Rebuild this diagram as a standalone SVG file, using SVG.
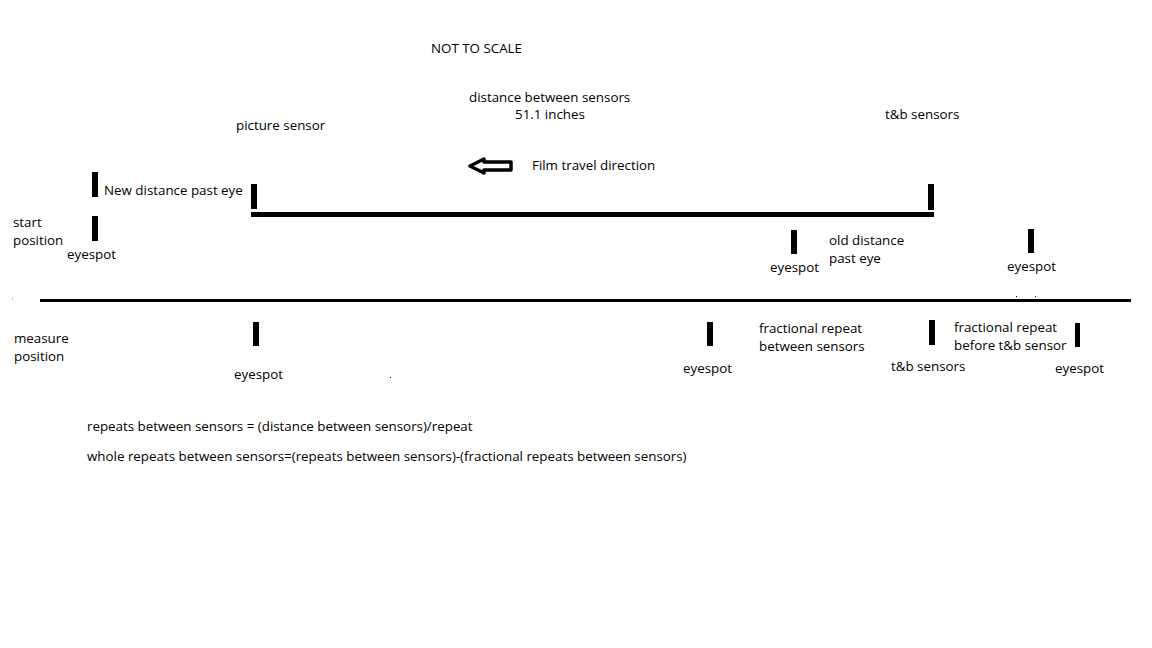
<svg xmlns="http://www.w3.org/2000/svg" width="1152" height="648" viewBox="0 0 1152 648">
<style>
text{font-family:"Open Sans","Liberation Sans",sans-serif;font-size:13.35px;fill:#000}
.bar{fill:#000}
</style>
<rect width="1152" height="648" fill="#fff"/>
<g id="labels">
<text x="431" y="53">NOT TO SCALE</text>
<text x="469" y="102">distance between sensors</text>
<text x="515" y="119">51.1 inches</text>
<text x="236" y="130">picture sensor</text>
<text x="885" y="119">t&amp;b sensors</text>
<text x="532" y="170">Film travel direction</text>
<text x="104" y="195">New distance past eye</text>
<text x="13" y="227">start</text>
<text x="13" y="245">position</text>
<text x="67" y="259">eyespot</text>
<text x="770" y="272">eyespot</text>
<text x="829" y="245">old distance</text>
<text x="829" y="263">past eye</text>
<text x="1007" y="271">eyespot</text>
<text x="14" y="343">measure</text>
<text x="14" y="361">position</text>
<text x="234" y="379">eyespot</text>
<text x="683" y="373">eyespot</text>
<text x="759" y="333">fractional repeat</text>
<text x="759" y="351">between sensors</text>
<text x="891" y="371">t&amp;b sensors</text>
<text x="954" y="332">fractional repeat</text>
<text x="954" y="350">before t&amp;b sensor</text>
<text x="1055" y="373">eyespot</text>
<text x="87" y="431">repeats between sensors = (distance between sensors)/repeat</text>
<text x="87" y="461">whole repeats between sensors=(repeats between sensors)-(fractional repeats between sensors)</text>
</g>
<g id="arrow">
<path d="M470,166 L484,159 L484,162 L511,162 L511,170 L484,170 L484,173 Z" fill="none" stroke="#000" stroke-width="3.5" stroke-linejoin="round"/>
</g>
<g id="sensor-line">
<rect x="251" y="212" width="683" height="5" class="bar"/>
</g>
<g id="measure-line">
<rect x="40" y="299" width="1091" height="3" class="bar"/>
</g>
<g id="ticks">
<rect x="92" y="172" width="6" height="25" class="bar"/>
<rect x="92" y="216" width="6" height="25" class="bar"/>
<rect x="251" y="184" width="6" height="25" class="bar"/>
<rect x="928" y="184" width="6" height="26" class="bar"/>
<rect x="791" y="230" width="6" height="24" class="bar"/>
<rect x="1028" y="229" width="6" height="24" class="bar"/>
<rect x="253" y="322" width="6" height="24" class="bar"/>
<rect x="707" y="322" width="6" height="24" class="bar"/>
<rect x="929" y="320" width="6" height="25" class="bar"/>
<rect x="1075" y="323" width="5" height="24" class="bar"/>
</g>
<g id="dots">
<rect x="1016" y="296" width="1" height="1" fill="#000"/>
<rect x="1035" y="296" width="1" height="1" fill="#000"/>
<rect x="390" y="377" width="1" height="1" fill="#000"/>
<rect x="12" y="297" width="1" height="3" fill="#f5c27a"/>
</g>
</svg>
